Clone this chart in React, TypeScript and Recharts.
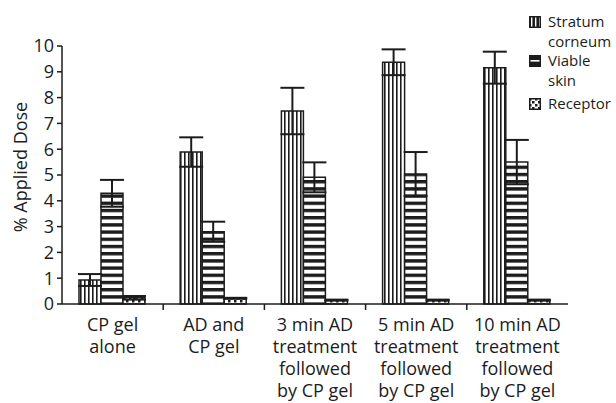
import React from 'react';
import { BarChart, Bar, XAxis, YAxis, ErrorBar } from 'recharts';

const categories = [
  'CP gel\nalone',
  'AD and\nCP gel',
  '3 min AD\ntreatment\nfollowed\nby CP gel',
  '5 min AD\ntreatment\nfollowed\nby CP gel',
  '10 min AD\ntreatment\nfollowed\nby CP gel',
];
const stratumCorneum = [0.93, 5.89, 7.48, 9.37, 9.16];
const stratumErr = [0.23, 0.57, 0.9, 0.5, 0.62];
const viableSkin = [4.29, 2.8, 4.91, 5.04, 5.5];
const viableErr = [0.52, 0.39, 0.58, 0.85, 0.86];
const receptor = [0.24, 0.22, 0.15, 0.15, 0.15];
const receptorErr = [0.07, 0.02, 0.02, 0.02, 0.02];
const yTicks = [0, 1, 2, 3, 4, 5, 6, 7, 8, 9, 10];

const data = categories.map((name, i) => ({
  name,
  sc: stratumCorneum[i],
  scErr: stratumErr[i],
  vs: viableSkin[i],
  vsErr: viableErr[i],
  rc: receptor[i],
  rcErr: receptorErr[i],
}));

const INK = '#1c1c1c';
const FONT = '"Open Sans", sans-serif';
const HALF_BAND = 50.6;

const CategoryTick = (props: any) => {
  const { x, y, payload, index } = props;
  const lines = String(payload.value).split('\n');
  return (
    <g>
      {index < categories.length - 1 && (
        <line x1={x + HALF_BAND} x2={x + HALF_BAND} y1={y - 8} y2={y - 2} stroke={INK} strokeWidth={1.5} />
      )}
      <text x={x} y={y} textAnchor="middle" fill={INK} fontSize={18} fontFamily={FONT}>
        {lines.map((l, i) => (
          <tspan key={i} x={x} dy={i === 0 ? 19 : 22}>
            {l}
          </tspan>
        ))}
      </text>
    </g>
  );
};

const legendItems = [
  { fill: 'url(#legSc)', lines: ['Stratum', 'corneum'] },
  { fill: 'url(#legVs)', lines: ['Viable', 'skin'] },
  { fill: 'url(#rcPat)', lines: ['Receptor'] },
];

// legend sits outside the chart so it doesn't eat plot space
const ChartLegend = () => (
  <div
    style={{
      position: 'absolute',
      left: 529,
      top: 12,
      fontFamily: FONT,
      fontSize: 15,
      color: INK,
      lineHeight: '19.5px',
      whiteSpace: 'nowrap',
    }}
  >
    {legendItems.map((it, i) => (
      <div key={i} style={{ display: 'flex', alignItems: 'flex-start', marginBottom: i === 1 ? 4 : 0 }}>
        <svg width={12} height={12} style={{ marginTop: 4, marginRight: 7, flex: 'none' }}>
          <rect x={0.75} y={0.75} width={10.5} height={10.5} fill={it.fill} stroke={INK} strokeWidth={1.5} />
        </svg>
        <div>
          {it.lines.map((l, j) => (
            <div key={j}>{l}</div>
          ))}
        </div>
      </div>
    ))}
  </div>
);

export default function App() {
  return (
    <div style={{ position: 'absolute', left: 0, top: 0, width: 616, height: 403, background: '#fff', overflow: 'hidden' }}>
      <BarChart
        width={616}
        height={403}
        data={data}
        margin={{ top: 46, right: 48, bottom: 69, left: 0 }}
        barCategoryGap={17}
        barGap={0}
      >
        <defs>
          <pattern id="scPat" patternUnits="userSpaceOnUse" width={4} height={4}>
            <rect width={4} height={4} fill="#fff" />
            <rect x={0} y={0} width={1.6} height={4} fill={INK} />
          </pattern>
          <pattern id="vsPat" patternUnits="userSpaceOnUse" width={7.2} height={7.2}>
            <rect width={7.2} height={7.2} fill="#fff" />
            <rect x={0} y={0} width={7.2} height={3.4} fill={INK} />
          </pattern>
          <pattern id="rcPat" patternUnits="userSpaceOnUse" width={6} height={6}>
            <rect width={6} height={6} fill="#fff" />
            <rect x={0} y={0} width={2.5} height={2.5} fill={INK} />
            <rect x={3} y={3} width={2.5} height={2.5} fill={INK} />
          </pattern>
          <pattern id="legSc" patternUnits="userSpaceOnUse" width={4} height={12}>
            <rect width={4} height={12} fill={INK} />
            <rect x={2} y={0} width={1.4} height={12} fill="#fff" />
          </pattern>
          <pattern id="legVs" patternUnits="userSpaceOnUse" width={12} height={12}>
            <rect width={12} height={12} fill={INK} />
            <rect x={0} y={5} width={12} height={1.6} fill="#fff" />
          </pattern>
        </defs>
        <XAxis
          dataKey="name"
          interval={0}
          tick={<CategoryTick />}
          tickLine={false}
          axisLine={{ stroke: INK, strokeWidth: 1.5 }}
        />
        <YAxis
          domain={[0, 10]}
          ticks={yTicks}
          width={62}
          interval={0}
          tick={{ fill: INK, fontSize: 18, fontFamily: FONT }}
          tickLine={{ stroke: INK, strokeWidth: 1.5 }}
          tickSize={5}
          tickMargin={3}
          axisLine={{ stroke: INK, strokeWidth: 1.5 }}
          label={{
            value: '% Applied Dose',
            angle: -90,
            position: 'insideLeft',
            dx: 16,
            dy: -8,
            style: { textAnchor: 'middle', fill: INK, fontSize: 18, fontFamily: FONT },
          }}
        />
        <Bar dataKey="sc" name="Stratum corneum" fill="url(#scPat)" stroke={INK} strokeWidth={1.5} isAnimationActive={false}>
          <ErrorBar dataKey="scErr" width={12} stroke={INK} strokeWidth={2} />
        </Bar>
        <Bar dataKey="vs" name="Viable skin" fill="url(#vsPat)" stroke={INK} strokeWidth={1.5} isAnimationActive={false}>
          <ErrorBar dataKey="vsErr" width={12} stroke={INK} strokeWidth={2} />
        </Bar>
        <Bar dataKey="rc" name="Receptor" fill="url(#rcPat)" stroke={INK} strokeWidth={1.5} isAnimationActive={false}>
          <ErrorBar dataKey="rcErr" width={12} stroke={INK} strokeWidth={2} />
        </Bar>
      </BarChart>
      <ChartLegend />
    </div>
  );
}
